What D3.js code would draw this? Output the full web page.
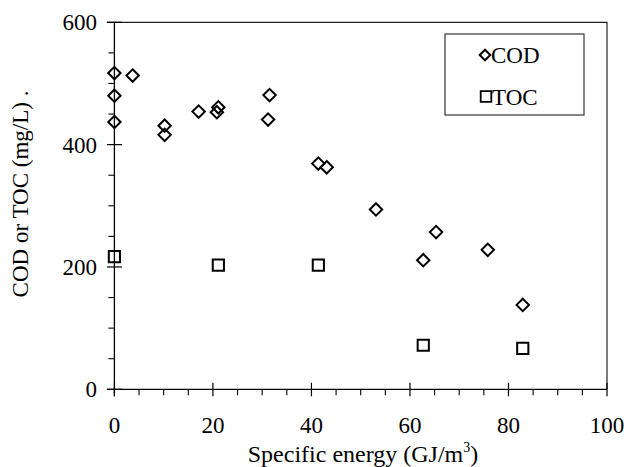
<!DOCTYPE html>
<html>
<head>
<meta charset="utf-8">
<script src="https://cdn.jsdelivr.net/npm/d3@7"></script>
<style>
  html, body { margin: 0; padding: 0; background: #fff; }
  svg text { font-family: "Liberation Serif", "Times New Roman", serif; fill: #000; }
</style>
</head>
<body>
<svg id="chart" width="628" height="467"></svg>
<script>
// COD measurements: specific energy (GJ/m3) and concentration (mg/L)
const codEnergy = [0, 0, 0, 3.7, 10.2, 10.2, 17.1, 21.1, 20.8, 31.5, 31.2, 41.4, 43.1, 53.1, 65.3, 62.7, 75.8, 82.9];
const codValue  = [517, 480, 437, 513, 431, 416, 454, 461, 453, 481, 441, 369, 363, 294, 257, 211, 228, 138];

// TOC measurements
const tocEnergy = [0, 21.1, 41.4, 62.7, 82.9];
const tocValue  = [217, 203, 203, 72, 67];

const xTicks = [0, 20, 40, 60, 80, 100];
const yTicks = [0, 200, 400, 600];
const seriesNames = ["COD", "TOC"];

const svg = d3.select("#chart");
const plotLeft = 114.4, plotRight = 607, plotTop = 22.3, plotBottom = 389.3;

const x = d3.scaleLinear().domain([0, 100]).range([plotLeft, plotRight]);
const y = d3.scaleLinear().domain([0, 600]).range([plotBottom, plotTop]);

// frame: top and right edges
svg.append("path")
  .attr("d", `M${x(0) - 7.5},${y(600)}H${x(100)}V${y(0)}`)
  .attr("fill", "none").attr("stroke", "#222").attr("stroke-width", 1.2);

// x axis: major ticks crossing the axis, minor ticks outside
const gx = svg.append("g").attr("transform", `translate(0,${y(0)})`);
gx.append("line").attr("x1", x(0) - 7.5).attr("x2", x(100))
  .attr("stroke", "#000").attr("stroke-width", 1.3);
gx.selectAll(".minor").data(d3.range(5, 100, 5).filter(v => v % 20 !== 0)).join("line")
  .attr("class", "minor")
  .attr("x1", d => x(d)).attr("x2", d => x(d)).attr("y1", 0).attr("y2", 6)
  .attr("stroke", "#000").attr("stroke-width", 1.1);
gx.selectAll(".major").data(xTicks).join("line")
  .attr("class", "major")
  .attr("x1", d => x(d)).attr("x2", d => x(d)).attr("y1", -6.5).attr("y2", 7)
  .attr("stroke", "#000").attr("stroke-width", 1.2);
gx.selectAll("text").data(xTicks).join("text")
  .attr("x", d => x(d)).attr("y", 44).attr("text-anchor", "middle")
  .attr("font-size", 23).text(d => d);

// y axis
const gy = svg.append("g").attr("transform", `translate(${x(0)},0)`);
gy.append("line").attr("y1", y(0) + 7).attr("y2", y(600))
  .attr("stroke", "#000").attr("stroke-width", 1.3);
gy.selectAll(".minor").data(d3.range(50, 600, 50).filter(v => v % 200 !== 0)).join("line")
  .attr("class", "minor")
  .attr("y1", d => y(d)).attr("y2", d => y(d)).attr("x1", -6).attr("x2", 0)
  .attr("stroke", "#000").attr("stroke-width", 1.1);
gy.selectAll(".major").data(yTicks).join("line")
  .attr("class", "major")
  .attr("y1", d => y(d)).attr("y2", d => y(d)).attr("x1", -7.5).attr("x2", 7.5)
  .attr("stroke", "#000").attr("stroke-width", 1.2);
gy.selectAll("text").data(yTicks).join("text")
  .attr("x", -17.5).attr("y", d => y(d) + 8).attr("text-anchor", "end")
  .attr("font-size", 23).text(d => d);

// axis titles
const xt = svg.append("text").attr("x", 363).attr("y", 461.5)
  .attr("text-anchor", "middle").attr("font-size", 24);
xt.append("tspan").text("Specific energy (GJ/m");
xt.append("tspan").attr("font-size", 14).attr("dy", -10).text("3");
xt.append("tspan").attr("dy", 10).text(")");

svg.append("text")
  .attr("transform", "translate(28,194) rotate(-90)")
  .attr("text-anchor", "middle").attr("font-size", 23)
  .text("COD or TOC (mg/L) .");

// markers
const diamond = s => `M0,${-s}L${s},0L0,${s}L${-s},0Z`;
const square = s => `M${-s},${-s}H${s}V${s}H${-s}Z`;

svg.append("g").selectAll("path").data(d3.range(codEnergy.length)).join("path")
  .attr("transform", i => `translate(${x(codEnergy[i])},${y(codValue[i])})`)
  .attr("d", diamond(6.2))
  .attr("fill", "none").attr("stroke", "#000").attr("stroke-width", 2);

svg.append("g").selectAll("path").data(d3.range(tocEnergy.length)).join("path")
  .attr("transform", i => `translate(${x(tocEnergy[i])},${y(tocValue[i])})`)
  .attr("d", square(5.6))
  .attr("fill", "none").attr("stroke", "#000").attr("stroke-width", 2);

// legend
const lg = svg.append("g");
lg.append("rect").attr("x", 445).attr("y", 34).attr("width", 139).attr("height", 81)
  .attr("fill", "#fff").attr("stroke", "#333").attr("stroke-width", 1.2);
lg.append("path").attr("transform", "translate(485,55)").attr("d", diamond(5.3))
  .attr("fill", "none").attr("stroke", "#000").attr("stroke-width", 2);
lg.append("path").attr("transform", "translate(486,96.5)").attr("d", square(5.3))
  .attr("fill", "none").attr("stroke", "#000").attr("stroke-width", 1.8);
lg.selectAll("text").data(seriesNames).join("text")
  .attr("x", (d, i) => i === 0 ? 491 : 492).attr("y", (d, i) => i === 0 ? 63 : 104.5)
  .attr("font-size", 23).text(d => d);
</script>
</body>
</html>
